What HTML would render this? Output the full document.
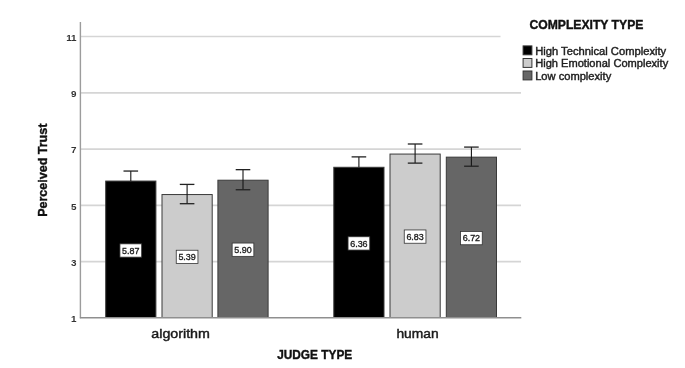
<!DOCTYPE html>
<html><head><meta charset="utf-8"><style>
html,body{margin:0;padding:0;background:#fff;}
svg{display:block;filter:blur(0.35px);font-family:"Liberation Sans",sans-serif;}
</style></head><body>
<svg width="685" height="368" viewBox="0 0 685 368">
<rect width="685" height="368" fill="#fff"/>
<line x1="80" y1="261.56" x2="521" y2="261.56" stroke="#d5d5d5" stroke-width="1.7"/>
<line x1="80" y1="205.32" x2="521" y2="205.32" stroke="#d5d5d5" stroke-width="1.7"/>
<line x1="80" y1="149.08" x2="521" y2="149.08" stroke="#d5d5d5" stroke-width="1.7"/>
<line x1="80" y1="92.84" x2="521" y2="92.84" stroke="#d5d5d5" stroke-width="1.7"/>
<line x1="80" y1="36.50" x2="500.5" y2="36.50" stroke="#d5d5d5" stroke-width="1.7"/>
<rect x="105.70" y="181.06" width="50.2" height="136.44" fill="#000000" stroke="#3a3a3a" stroke-width="1"/>
<rect x="162.00" y="194.55" width="50.2" height="122.95" fill="#cccccc" stroke="#3a3a3a" stroke-width="1"/>
<rect x="217.90" y="180.21" width="50.2" height="137.29" fill="#666666" stroke="#3a3a3a" stroke-width="1"/>
<rect x="333.80" y="167.28" width="50.2" height="150.22" fill="#000000" stroke="#3a3a3a" stroke-width="1"/>
<rect x="390.00" y="154.06" width="50.2" height="163.44" fill="#cccccc" stroke="#3a3a3a" stroke-width="1"/>
<rect x="446.30" y="157.15" width="50.2" height="160.35" fill="#666666" stroke="#3a3a3a" stroke-width="1"/>
<line x1="80.4" y1="22" x2="80.4" y2="318.3" stroke="#9c9c9c" stroke-width="1.4"/>
<line x1="79.9" y1="317.8" x2="521.3" y2="317.8" stroke="#8f8f8f" stroke-width="1.5"/>
<line x1="130.80" y1="171.05" x2="130.80" y2="181.06" stroke="#151515" stroke-width="1.1"/>
<line x1="123.50" y1="171.05" x2="138.10" y2="171.05" stroke="#222" stroke-width="1.3"/>
<rect x="119.95" y="243.85" width="21.7" height="13.3" fill="#fff" stroke="#333" stroke-width="0.8"/>
<text x="130.80" y="253.60" text-anchor="middle" font-size="9.4" fill="#222" stroke="#222" stroke-width="0.35" textLength="17.4" lengthAdjust="spacingAndGlyphs">5.87</text>
<line x1="187.10" y1="184.41" x2="187.10" y2="203.70" stroke="#151515" stroke-width="1.1"/>
<line x1="179.80" y1="184.41" x2="194.40" y2="184.41" stroke="#222" stroke-width="1.3"/>
<line x1="179.80" y1="203.70" x2="194.40" y2="203.70" stroke="#222" stroke-width="1.3"/>
<rect x="176.25" y="250.25" width="21.7" height="13.3" fill="#fff" stroke="#333" stroke-width="0.8"/>
<text x="187.10" y="260.00" text-anchor="middle" font-size="9.4" fill="#222" stroke="#222" stroke-width="0.35" textLength="17.4" lengthAdjust="spacingAndGlyphs">5.39</text>
<line x1="243.00" y1="169.67" x2="243.00" y2="189.75" stroke="#151515" stroke-width="1.1"/>
<line x1="235.70" y1="169.67" x2="250.30" y2="169.67" stroke="#222" stroke-width="1.3"/>
<line x1="235.70" y1="189.75" x2="250.30" y2="189.75" stroke="#222" stroke-width="1.3"/>
<rect x="232.15" y="243.05" width="21.7" height="13.3" fill="#fff" stroke="#333" stroke-width="0.8"/>
<text x="243.00" y="252.80" text-anchor="middle" font-size="9.4" fill="#222" stroke="#222" stroke-width="0.35" textLength="17.4" lengthAdjust="spacingAndGlyphs">5.90</text>
<line x1="358.90" y1="156.88" x2="358.90" y2="167.28" stroke="#151515" stroke-width="1.1"/>
<line x1="351.60" y1="156.88" x2="366.20" y2="156.88" stroke="#222" stroke-width="1.3"/>
<rect x="348.05" y="236.75" width="21.7" height="13.3" fill="#fff" stroke="#333" stroke-width="0.8"/>
<text x="358.90" y="246.50" text-anchor="middle" font-size="9.4" fill="#222" stroke="#222" stroke-width="0.35" textLength="17.4" lengthAdjust="spacingAndGlyphs">6.36</text>
<line x1="415.10" y1="144.00" x2="415.10" y2="163.12" stroke="#151515" stroke-width="1.1"/>
<line x1="407.80" y1="144.00" x2="422.40" y2="144.00" stroke="#222" stroke-width="1.3"/>
<line x1="407.80" y1="163.12" x2="422.40" y2="163.12" stroke="#222" stroke-width="1.3"/>
<rect x="404.25" y="229.95" width="21.7" height="13.3" fill="#fff" stroke="#333" stroke-width="0.8"/>
<text x="415.10" y="239.70" text-anchor="middle" font-size="9.4" fill="#222" stroke="#222" stroke-width="0.35" textLength="17.4" lengthAdjust="spacingAndGlyphs">6.83</text>
<line x1="471.40" y1="147.09" x2="471.40" y2="166.21" stroke="#151515" stroke-width="1.1"/>
<line x1="464.10" y1="147.09" x2="478.70" y2="147.09" stroke="#222" stroke-width="1.3"/>
<line x1="464.10" y1="166.21" x2="478.70" y2="166.21" stroke="#222" stroke-width="1.3"/>
<rect x="460.55" y="231.45" width="21.7" height="13.3" fill="#fff" stroke="#333" stroke-width="0.8"/>
<text x="471.40" y="241.20" text-anchor="middle" font-size="9.4" fill="#222" stroke="#222" stroke-width="0.35" textLength="17.4" lengthAdjust="spacingAndGlyphs">6.72</text>
<text x="76.6" y="322.00" text-anchor="end" font-size="9.9" font-weight="bold" fill="#333">1</text>
<text x="76.6" y="265.76" text-anchor="end" font-size="9.9" font-weight="bold" fill="#333">3</text>
<text x="76.6" y="209.52" text-anchor="end" font-size="9.9" font-weight="bold" fill="#333">5</text>
<text x="76.6" y="153.28" text-anchor="end" font-size="9.9" font-weight="bold" fill="#333">7</text>
<text x="76.6" y="97.04" text-anchor="end" font-size="9.9" font-weight="bold" fill="#333">9</text>
<text x="76.6" y="40.80" text-anchor="end" font-size="9.9" font-weight="bold" fill="#333">11</text>
<text x="151.3" y="338.2" font-size="13" fill="#1a1a1a" stroke="#1a1a1a" stroke-width="0.45" textLength="58.6" lengthAdjust="spacingAndGlyphs">algorithm</text>
<text x="396.4" y="338.3" font-size="13" fill="#1a1a1a" stroke="#1a1a1a" stroke-width="0.45" textLength="42.2" lengthAdjust="spacingAndGlyphs">human</text>
<text x="277.2" y="358.7" font-size="12.6" font-weight="bold" fill="#111" stroke="#111" stroke-width="0.4" textLength="75" lengthAdjust="spacingAndGlyphs">JUDGE TYPE</text>
<text transform="translate(47.3,216.8) rotate(-90)" x="0" y="0" font-size="13.4" font-weight="bold" fill="#111" stroke="#111" stroke-width="0.4" textLength="93.2" lengthAdjust="spacingAndGlyphs">Perceived Trust</text>
<text x="529.4" y="28.9" font-size="12.6" font-weight="bold" fill="#111" stroke="#111" stroke-width="0.4" textLength="114" lengthAdjust="spacingAndGlyphs">COMPLEXITY TYPE</text>
<rect x="523.1" y="45.90" width="8.8" height="8.9" fill="#000000" stroke="#333" stroke-width="1"/>
<text x="535.2" y="54.60" font-size="10" fill="#1e1e1e" stroke="#1e1e1e" stroke-width="0.4" textLength="131" lengthAdjust="spacingAndGlyphs">High Technical Complexity</text>
<rect x="523.1" y="58.50" width="8.8" height="8.9" fill="#cccccc" stroke="#333" stroke-width="1"/>
<text x="535.2" y="67.20" font-size="10" fill="#1e1e1e" stroke="#1e1e1e" stroke-width="0.4" textLength="133" lengthAdjust="spacingAndGlyphs">High Emotional Complexity</text>
<rect x="523.1" y="71.00" width="8.8" height="8.9" fill="#666666" stroke="#333" stroke-width="1"/>
<text x="535.2" y="79.70" font-size="10" fill="#1e1e1e" stroke="#1e1e1e" stroke-width="0.4" textLength="76" lengthAdjust="spacingAndGlyphs">Low complexity</text>
</svg>
</body></html>
